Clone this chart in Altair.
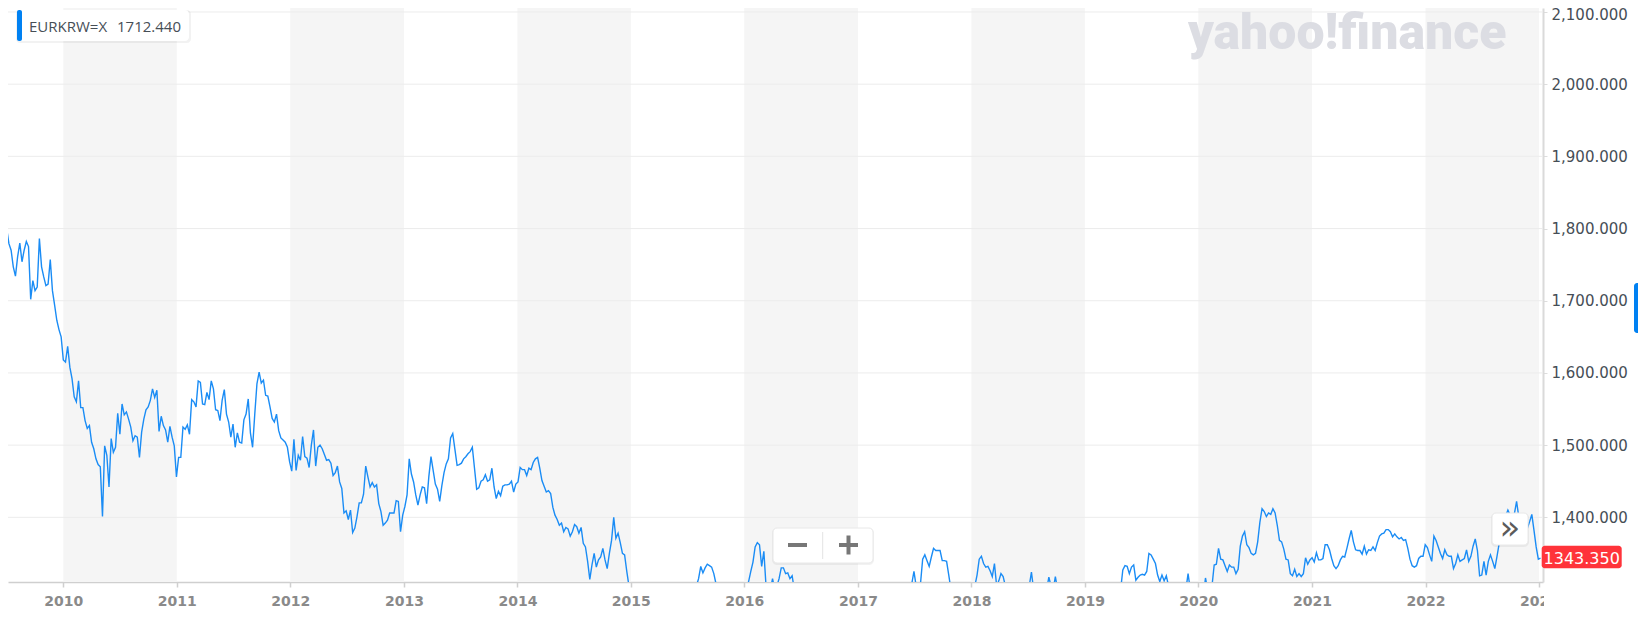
import altair as alt
import pandas as pd

# ---------------- data: weekly EUR/KRW closes ----------------
seg_2009_start = "2009-06-19"
seg_2009 = [1765, 1791, 1799, 1779, 1770, 1747, 1734, 1761, 1780, 1754,
            1770, 1782, 1775, 1702, 1728, 1714, 1719, 1786, 1747, 1733,
            1721, 1723, 1757, 1714, 1694, 1673, 1660, 1650, 1618, 1615,
            1637, 1608, 1592, 1567, 1560, 1589, 1552, 1552, 1534, 1523,
            1527, 1504, 1495, 1481, 1473, 1470, 1401, 1499, 1486, 1442,
            1509, 1490, 1497, 1544, 1515, 1557, 1542, 1546, 1536, 1525,
            1506, 1513, 1511, 1483, 1518, 1536, 1549, 1553, 1562, 1578,
            1566, 1576, 1519, 1540, 1527, 1521, 1504, 1526, 1511, 1499,
            1456, 1483, 1483, 1525, 1522, 1528, 1515, 1563, 1560, 1553,
            1589]

seg_2011_start = "2011-03-18"
seg_2011 = [1587, 1557, 1556, 1573, 1563, 1589, 1578, 1549, 1548, 1534,
            1562, 1577, 1543, 1532, 1511, 1529, 1497, 1517, 1504, 1503,
            1535, 1543, 1564, 1517, 1497, 1543, 1585, 1601, 1586, 1590,
            1569, 1568, 1553, 1537, 1532, 1543, 1520, 1510, 1507, 1504,
            1497, 1477, 1464, 1508, 1465, 1486, 1479, 1512,
            1484, 1482, 1469, 1500, 1521, 1471, 1497, 1500, 1495, 1487,
            1479, 1480, 1475, 1458, 1462, 1471, 1449, 1440, 1406, 1409,
            1397, 1410, 1379, 1385, 1401, 1420, 1420, 1432, 1471, 1456,
            1442, 1448, 1442, 1445, 1419, 1408, 1389, 1392, 1396, 1406,
            1406, 1406, 1423, 1422, 1380, 1403, 1415, 1431, 1481, 1460,
            1449, 1431, 1417, 1431, 1442, 1441, 1419]

seg_2013_start = "2013-03-22"
seg_2013 = [1456, 1484, 1465, 1446, 1439, 1422, 1444, 1462, 1474, 1481,
            1510, 1516, 1494, 1472, 1473, 1475, 1481, 1484, 1488, 1491,
            1497, 1468, 1439, 1441, 1450, 1452, 1459, 1450, 1452, 1468,
            1442, 1426, 1436, 1430, 1443, 1445, 1445, 1446, 1450, 1435,
            1446, 1449, 1469, 1466, 1466, 1458, 1468, 1466, 1476, 1481,
            1483, 1468, 1451, 1443, 1435, 1437, 1433, 1414, 1403, 1397,
            1389, 1392, 1380, 1386, 1384, 1374, 1380, 1390, 1387, 1378,
            1386, 1364, 1359, 1339, 1314, 1334, 1350, 1331, 1341, 1345,
            1357, 1341, 1329, 1350, 1368, 1400, 1371, 1378, 1365, 1350,
            1348, 1325, 1305]

seg_2015_start = "2015-01-02"
seg_2015 = [1290, 1280, 1270, 1260, 1250, 1240, 1230, 1220, 1210, 1200,
            1200, 1205, 1210, 1200, 1190, 1195, 1200, 1210, 1220, 1225,
            1230, 1240, 1245, 1250, 1255, 1250, 1260, 1270, 1280, 1295,
            1305, 1315, 1332, 1323, 1330, 1335, 1333, 1331, 1322, 1308,
            1300, 1285, 1280, 1290, 1265, 1255, 1245, 1240, 1250, 1275,
            1285, 1290,
            1300, 1305, 1311, 1325, 1338, 1359, 1365, 1362, 1332, 1353,
            1305, 1295, 1300, 1315, 1300, 1305, 1315, 1330, 1330, 1322,
            1323, 1315, 1319, 1300, 1290]

seg_2016_start = "2016-06-24"
seg_2016 = [1285, 1290, 1280, 1275, 1270, 1265, 1250, 1245, 1250, 1255,
            1250, 1245, 1240, 1235, 1240, 1250, 1255, 1250, 1245, 1260,
            1265, 1255, 1245, 1240, 1245, 1230, 1225, 1230, 1235, 1240,
            1245, 1250, 1230, 1225, 1215, 1210, 1205, 1210, 1215, 1220,
            1215, 1210, 1215, 1220, 1230, 1245, 1250, 1255, 1260, 1265,
            1275, 1285,
            1308, 1325, 1305, 1300, 1308, 1342, 1348, 1340, 1332, 1345,
            1357, 1354, 1354, 1354, 1340, 1340, 1339, 1320, 1300,
            1290, 1270, 1265, 1275, 1280, 1275, 1280, 1285, 1280]

seg_2018_start = "2018-01-05"
seg_2018 = [1290, 1305, 1320, 1342, 1346, 1336, 1331, 1332, 1326, 1318,
            1336, 1305, 1312, 1322, 1318, 1305, 1300,
            1290, 1285, 1280, 1285, 1290, 1295, 1290, 1285, 1295,
            1305, 1324, 1300,
            1295, 1290, 1285, 1290, 1295, 1300,
            1317, 1305, 1300, 1318, 1300,
            1295, 1290, 1285, 1280, 1275, 1280, 1285, 1280, 1285, 1290,
            1285, 1280]

seg_2019_start = "2019-01-04"
seg_2019 = [1280, 1285, 1290, 1285, 1280, 1275, 1270, 1275, 1280, 1285,
            1280, 1285, 1290, 1295, 1290, 1295, 1300,
            1327, 1333, 1332, 1322, 1331, 1334, 1313, 1317, 1320, 1321,
            1320, 1325, 1350, 1348, 1342, 1336, 1320, 1311, 1320, 1312,
            1319, 1305,
            1300, 1295, 1290, 1292, 1295, 1285, 1290, 1300, 1322, 1300,
            1305, 1298, 1300, 1302, 1295, 1290, 1316, 1300, 1295, 1305]

seg_2020_start = "2020-02-21"
seg_2020 = [1334, 1335, 1357, 1342, 1341, 1333, 1325, 1334, 1331, 1331,
            1322, 1328, 1360, 1374, 1380, 1362, 1358, 1350, 1348, 1350,
            1366, 1393, 1412, 1408, 1401, 1406, 1404, 1412, 1406, 1389,
            1368, 1366, 1356, 1342, 1341, 1322, 1319, 1328, 1318, 1322,
            1318]

seg_2021_start = "2020-12-04"
seg_2021 = [1322, 1344, 1335, 1341, 1344, 1338,
            1351, 1341, 1341, 1343, 1362, 1362, 1355, 1343, 1333, 1329,
            1333, 1341, 1346, 1345, 1357, 1370, 1382, 1366, 1355, 1354,
            1354, 1349, 1360, 1349, 1355, 1354, 1359, 1354, 1365, 1374,
            1377, 1378, 1383, 1383, 1380, 1373, 1377, 1373, 1370, 1372,
            1368, 1369, 1357, 1342, 1333, 1331, 1333, 1343, 1346, 1346]

seg_2022_start = "2021-12-31"
seg_2022 = [1362, 1358, 1348, 1339, 1374, 1368, 1359, 1350, 1343, 1355,
            1348, 1346, 1346, 1329, 1336, 1348, 1339, 1341, 1343, 1355,
            1339, 1346, 1360, 1370, 1354, 1319, 1320, 1339, 1320, 1339,
            1348, 1339, 1329, 1346, 1364, 1380,
            1392, 1402, 1410, 1403, 1400, 1405, 1422, 1401, 1395, 1385,
            1390, 1385, 1394, 1404, 1382, 1359, 1342, 1343.35]

shaded_years = [2010, 2012, 2014, 2016, 2018, 2020, 2022]
grid_levels = [1400, 1500, 1600, 1700, 1800, 1900, 2000, 2100]
tick_years = list(range(2010, 2024))
symbol = "EURKRW=X"
legend_value = "1712.440"
last_label = "1343.350"

# ---------------- build tables ----------------
segments = [(seg_2009_start, seg_2009), (seg_2011_start, seg_2011),
            (seg_2013_start, seg_2013), (seg_2015_start, seg_2015),
            (seg_2016_start, seg_2016), (seg_2018_start, seg_2018),
            (seg_2019_start, seg_2019), (seg_2020_start, seg_2020),
            (seg_2021_start, seg_2021), (seg_2022_start, seg_2022)]
frames = []
for start, vals in segments:
    d = pd.date_range(start, periods=len(vals), freq="7D")
    frames.append(pd.DataFrame({"date": d.strftime("%Y-%m-%d"), "close": vals}))
df = pd.concat(frames, ignore_index=True)

bands = pd.DataFrame({"start": [f"{y}-01-01" for y in shaded_years],
                      "end": [f"{y + 1}-01-01" for y in shaded_years]})
grid_df = pd.DataFrame({"level": grid_levels})
one = alt.Data(values=[{"k": 1}])

TOP = 8            # top padding so the topmost axis label is not cut
W, H = 1535, 574 - TOP
xs = alt.Scale(type="utc",
               domain=[alt.DateTime(year=2009, month=7, date=7, utc=True),
                       alt.DateTime(year=2023, month=1, date=14, utc=True)])
ys = alt.Scale(domain=[1310.4, 2105.5], zero=False, nice=False, range=[H, -TOP])

x_axis = alt.Axis(values=[alt.DateTime(year=y, month=1, date=1, utc=True) for y in tick_years],
                  format="%Y", title=None, grid=False,
                  domainColor="#cfcfcf", domainWidth=1.5,
                  tickColor="#cfcfcf", tickSize=5, tickWidth=1.5,
                  labelFont="DejaVu Sans", labelFontSize=14, labelFontWeight="bold",
                  labelColor="#8a8a8a", labelPadding=7, labelFlush=False,
                  labelOverlap=False)
y_axis = alt.Axis(orient="right", values=grid_levels, format=",.3f", title=None,
                  grid=False, domainColor="#dadada", domainWidth=2,
                  tickColor="#dddddd", tickSize=4,
                  labelFont="DejaVu Sans", labelFontSize=15, labelColor="#464e56",
                  labelPadding=4,
                  labelOffset={"condition": {"test": "datum.value >= 2100", "value": 3},
                               "value": 0})

band_layer = alt.Chart(bands).mark_rect(color="#f5f5f5").encode(
    x=alt.X("start:T", scale=xs, axis=x_axis), x2="end:T",
    y=alt.value(-TOP), y2=alt.value(H))

grid_layer = alt.Chart(grid_df).mark_rule(color="#ececec", strokeWidth=1).encode(
    y=alt.Y("level:Q", scale=ys, axis=y_axis), x=alt.value(0), x2=alt.value(W))

line_layer = alt.Chart(df).mark_line(color="#1a8cf5", strokeWidth=1.4, clip=True).encode(
    x=alt.X("date:T", scale=xs, axis=x_axis),
    y=alt.Y("close:Q", scale=ys, axis=y_axis))


def box(x1, x2, y1, y2, fill, stroke=None, radius=0, opacity=1):
    kw = dict(fill=fill, cornerRadius=radius, opacity=opacity)
    if stroke:
        kw["stroke"] = stroke
        kw["strokeWidth"] = 1
    return alt.Chart(one).mark_rect(**kw).encode(
        x=alt.value(x1), x2=alt.value(x2),
        y=alt.value(y1 - TOP), y2=alt.value(y2 - TOP))


def text(t, x, y, size, color, font="DejaVu Sans", weight="normal", align="left",
         baseline="alphabetic"):
    return alt.Chart(one).mark_text(font=font, fontSize=size, color=color,
                                    fontWeight=weight, align=align,
                                    baseline=baseline).encode(
        x=alt.value(x), y=alt.value(y - TOP), text=alt.value(t))


def rule(x1, x2, y1, y2, color, width):
    return alt.Chart(one).mark_rule(color=color, strokeWidth=width).encode(
        x=alt.value(x1), x2=alt.value(x2),
        y=alt.value(y1 - TOP), y2=alt.value(y2 - TOP))


decor = [
    # watermark
    text("yahoo!finance", 1180, 41, 50, "#dcdde3", font="Roboto", weight=900),
    # legend chip
    box(8, 183, 2, 35, "#000000", radius=4, opacity=0.05),
    box(9, 181, 2, 33, "#ffffff", radius=4),
    box(9, 14, 2, 33, "#0081f2", radius=2),
    text(symbol, 21, 24, 15, "#464e56", font="Open Sans"),
    text(legend_value, 109, 24, 15, "#464e56", font="Open Sans"),
    # zoom buttons
    box(764, 866, 520, 557, "#000000", radius=5, opacity=0.05),
    box(765, 865, 520, 555, "#ffffff", stroke="#e8e8e8", radius=4),
    rule(814.7, 814.7, 524, 551, "#e3e3e3", 1),
    rule(780, 799, 537, 537, "#777777", 4),
    rule(831, 850, 537, 537, "#777777", 4),
    rule(840.5, 840.5, 527.5, 546.5, "#777777", 4),
    # expand button
    box(1483, 1521, 505, 539, "#000000", radius=5, opacity=0.05),
    box(1484, 1520, 505, 537, "#ffffff", stroke="#e8e8e8", radius=4),
    text("»", 1502, 521, 34, "#5b5b5b", align="center", baseline="middle"),
    # last price tag
    box(1533.7, 1613.7, 537.7, 560.3, "#ff333a", radius=3),
    text(last_label, 1573.7, 555.5, 16, "#ffffff", align="center"),
    # side marker (at the right edge of the canvas)
    box(1626, 1636, 275, 325, "#0081f2", radius=3),
    # right edge clip of the last year label
    box(1536, 1600, 577, 600, "#ffffff"),
]

chart = alt.layer(band_layer, grid_layer, line_layer, *decor).properties(
    width=W, height=H,
    autosize=alt.AutoSizeParams(type="none"),
    padding={"left": 0, "top": TOP, "right": 95, "bottom": 30},
    background="#ffffff",
).configure_view(stroke=None)

chart.save("out.html", embed_options={"renderer": "svg", "actions": False})
